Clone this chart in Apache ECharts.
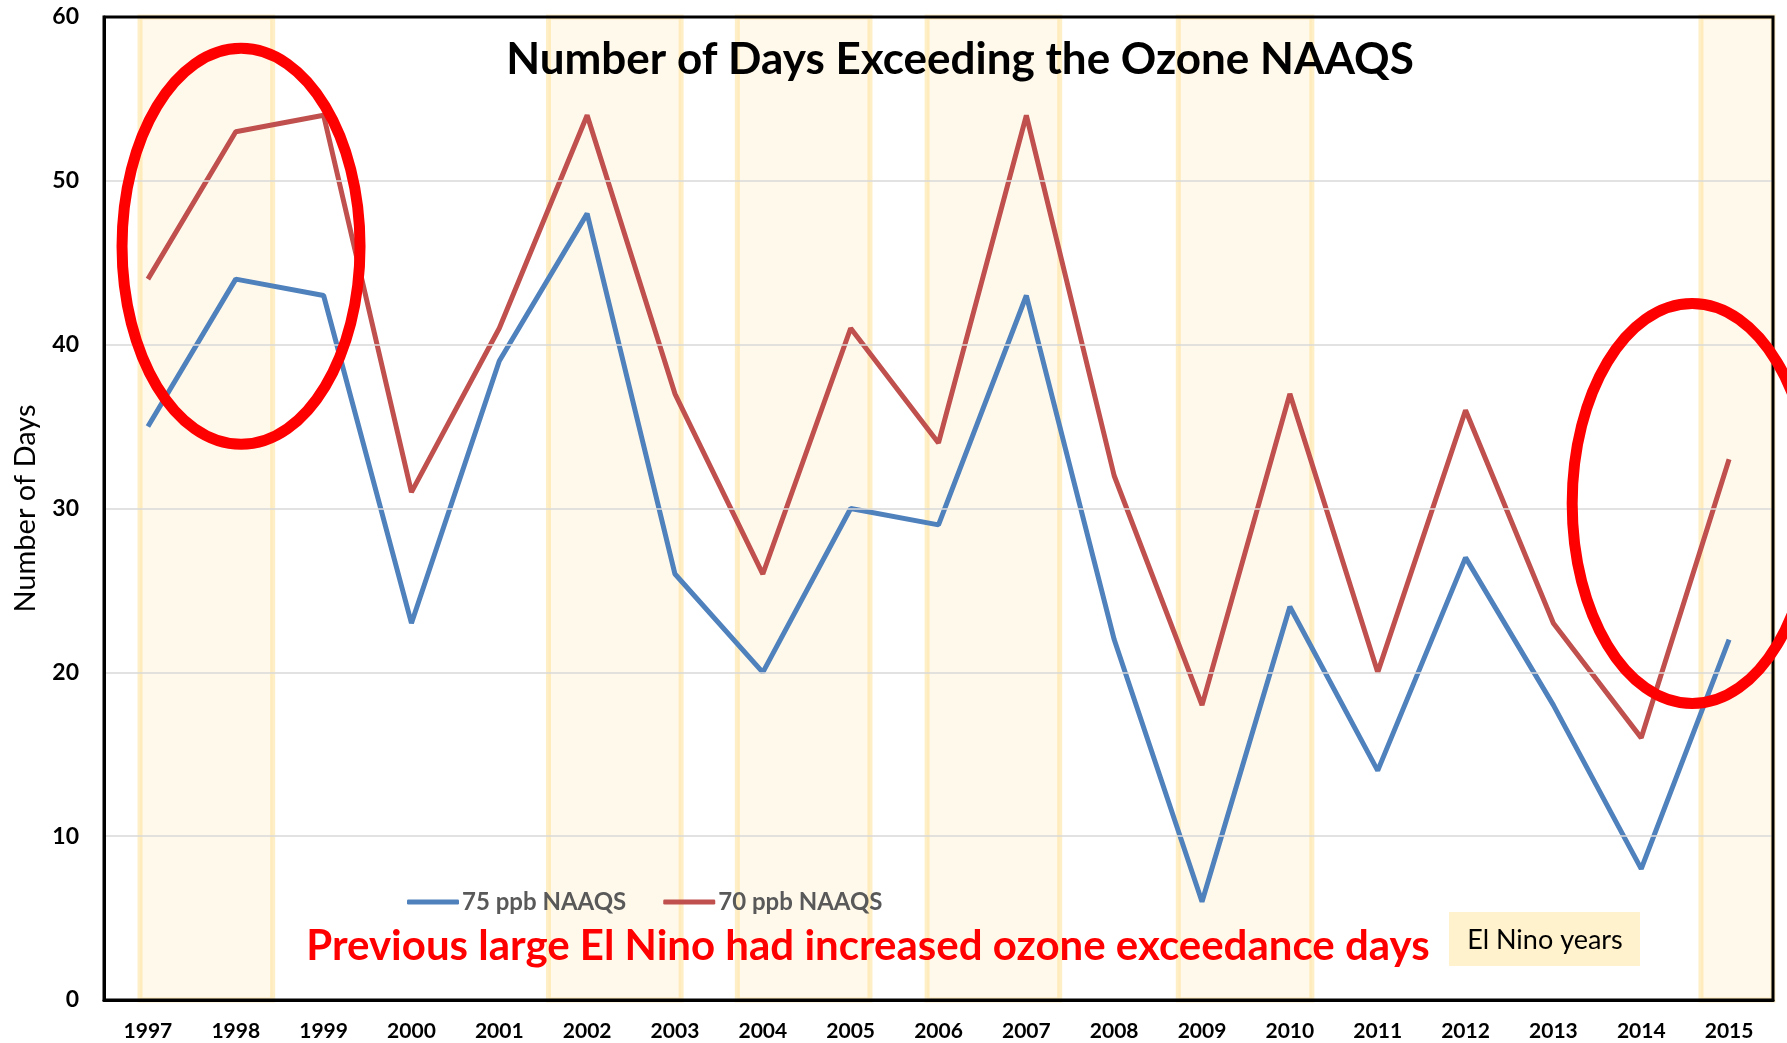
<!DOCTYPE html>
<html>
<head>
<meta charset="utf-8">
<title>Number of Days Exceeding the Ozone NAAQS</title>
<script src="https://cdn.jsdelivr.net/npm/echarts@6/dist/echarts.min.js"></script>
<style>
html, body { margin: 0; padding: 0; background: #fff; }
#chart { width: 1787px; height: 1043px; }
</style>
</head>
<body>
<div id="chart"></div>
<script>
// data
var years = ['1997', '1998', '1999', '2000', '2001', '2002', '2003', '2004', '2005', '2006',
             '2007', '2008', '2009', '2010', '2011', '2012', '2013', '2014', '2015'];
var ppb75 = [35, 44, 43, 23, 39, 48, 26, 20, 30, 29, 43, 22, 6, 24, 14, 27, 18, 8, 22];
var ppb70 = [44, 53, 54, 31, 41, 54, 37, 26, 41, 34, 54, 32, 18, 37, 20, 36, 23, 16, 33];
var yMin = 0, yMax = 60, yStep = 10;

// El Nino shading, in fractional years (drawn as boxes by hand in the original)
var elNinoBands = [[1996.91, 1998.42], [2001.56, 2003.07], [2003.71, 2005.22],
                   [2005.87, 2007.38], [2008.73, 2010.25], [2014.68, 2015.5]];
// red circles: centre in data units, radii in px
var circled = [{year: 1998.06, value: 46.0, rx: 119, ry: 198},
               {year: 2014.58, value: 30.3, rx: 120, ry: 200}];

var FONT = 'Lato, "Open Sans", sans-serif';
var myChart = echarts.init(document.getElementById('chart'));

var option = {
    animation: false,
    grid: {
        left: 104, top: 17, right: 14, bottom: 43
    },
    legend: {
        left: 402, top: 885,
        itemWidth: 52, itemHeight: 5, itemGap: 37,
        icon: 'roundRect',
        data: ['75 ppb NAAQS', '70 ppb NAAQS'],
        textStyle: {color: '#595959', fontWeight: 'bold', fontSize: 24, fontFamily: FONT, padding: [0, 0, 0, -2]}
    },
    xAxis: [{
        type: 'category',
        data: years,
        boundaryGap: true,
        axisTick: {show: false},
        axisLine: {lineStyle: {color: '#000', width: 3}},
        axisLabel: {color: '#000', fontWeight: 'bold', fontSize: 21, fontFamily: FONT, margin: 21, interval: 0},
        z: 5
    }, {
        type: 'value',
        min: 1996.5, max: 2015.5,
        show: false
    }],
    yAxis: {
        type: 'value',
        min: yMin, max: yMax, interval: yStep,
        name: 'Number of Days',
        nameLocation: 'middle',
        nameGap: 64,
        nameTextStyle: {color: '#000', fontSize: 29, fontFamily: FONT},
        axisLine: {show: true, lineStyle: {color: '#000', width: 3}},
        axisTick: {show: false},
        axisLabel: {color: '#000', fontWeight: 'bold', fontSize: 23, fontFamily: FONT, margin: 25},
        splitLine: {lineStyle: {color: '#D9D9D9', width: 1.5}},
        z: 5
    },
    series: [{
        name: 'bands',
        type: 'line',
        xAxisIndex: 1,
        data: [[1996.5, null]],
        symbol: 'none',
        silent: true,
        z: 1,
        markArea: {
            silent: true,
            itemStyle: {
                color: 'rgba(255,224,160,0.2)',
                borderColor: 'rgba(255,220,130,0.45)',
                borderWidth: 5
            },
            data: elNinoBands.map(function (b) {
                return [{xAxis: b[0], yAxis: yMin}, {xAxis: b[1], yAxis: yMax}];
            })
        }
    }, {
        name: '75 ppb NAAQS',
        type: 'line',
        data: ppb75,
        symbol: 'none',
        z: 3,
        lineStyle: {color: '#4F81BD', width: 5},
        itemStyle: {color: '#4F81BD'}
    }, {
        name: '70 ppb NAAQS',
        type: 'line',
        data: ppb70,
        symbol: 'none',
        z: 3,
        lineStyle: {color: '#C0504D', width: 5},
        itemStyle: {color: '#C0504D'}
    }]
};
myChart.setOption(option);

// plot frame (black on all four sides, above the bands and the top grid line)
var tl = myChart.convertToPixel({xAxisIndex: 1, yAxisIndex: 0}, [1996.5, yMax]);
var br = myChart.convertToPixel({xAxisIndex: 1, yAxisIndex: 0}, [2015.5, yMin]);

// annotations
var graphics = [{
    type: 'rect', z: 9, silent: true,
    shape: {x: tl[0], y: tl[1], width: br[0] - tl[0], height: br[1] - tl[1]},
    style: {fill: 'none', stroke: '#000', lineWidth: 3}
}, {
    type: 'text', z: 10,
    style: {
        text: 'Number of Days Exceeding the Ozone NAAQS',
        x: 960, y: 60, textAlign: 'center', textVerticalAlign: 'middle',
        fill: '#000', font: 'bold 44px ' + FONT
    }
}, {
    type: 'text', z: 10,
    style: {
        text: 'Previous large El Nino had increased ozone exceedance days',
        x: 868, y: 946, textAlign: 'center', textVerticalAlign: 'middle',
        fill: '#FF0000', font: 'bold 42px ' + FONT
    }
}, {
    type: 'rect', z: 10,
    shape: {x: 1449, y: 912, width: 191, height: 54},
    style: {fill: '#FFF2CC'}
}, {
    type: 'text', z: 11,
    style: {
        text: 'El Nino years',
        x: 1545, y: 940, textAlign: 'center', textVerticalAlign: 'middle',
        fill: '#000', font: '27px ' + FONT
    }
}];
circled.forEach(function (c) {
    var p = myChart.convertToPixel({xAxisIndex: 1, yAxisIndex: 0}, [c.year, c.value]);
    graphics.push({
        type: 'ellipse', z: 12, silent: true,
        shape: {cx: p[0], cy: p[1], rx: c.rx, ry: c.ry},
        style: {fill: 'none', stroke: '#FF0000', lineWidth: 11}
    });
});
myChart.setOption({graphic: graphics});
</script>
</body>
</html>
